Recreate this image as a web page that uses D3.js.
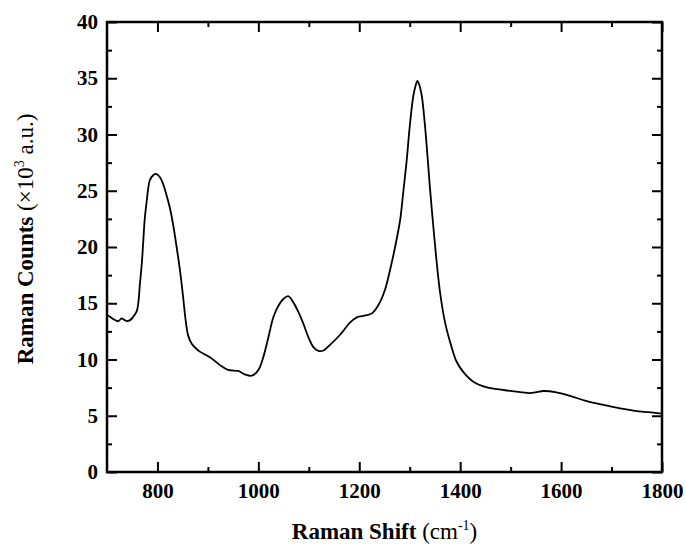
<!DOCTYPE html>
<html>
<head>
<meta charset="utf-8">
<script src="https://cdn.jsdelivr.net/npm/d3@7"></script>
<style>
  body { margin: 0; background: #fff; }
  svg text { font-family: "Liberation Serif", "Times New Roman", serif; }
</style>
</head>
<body>
<div id="chart"></div>
<script>
// Raman spectrum
var shift = [700, 706, 714, 722, 729, 733, 739, 746, 752, 759, 762, 765, 769, 772, 775, 779, 782, 785, 792, 797,
	805, 812, 818, 825, 831, 838, 845, 851, 855, 861, 868, 876, 884, 904, 924, 940, 960, 973, 987, 1000,
	1010, 1020, 1030, 1040, 1050, 1059, 1069, 1079, 1089, 1099, 1109, 1119, 1129, 1142, 1162, 1182, 1195, 1208, 1225, 1238,
	1251, 1261, 1271, 1281, 1287, 1294, 1300, 1307, 1312, 1315, 1319, 1324, 1330, 1335, 1340, 1346, 1352, 1360, 1370, 1383,
	1393, 1406, 1426, 1453, 1486, 1519, 1538, 1552, 1565, 1591, 1618, 1651, 1684, 1717, 1750, 1783, 1800];
var counts = [13.95, 13.8, 13.55, 13.4, 13.65, 13.55, 13.42, 13.5, 13.8, 14.3, 15.0, 16.6, 18.55, 20.6, 22.6, 24.2, 25.3, 25.95, 26.4, 26.5,
	26.2, 25.5, 24.6, 23.4, 22.0, 20.0, 17.8, 15.5, 13.8, 12.1, 11.4, 11.0, 10.7, 10.2, 9.5, 9.07, 8.98, 8.68, 8.56, 9.07,
	10.25, 12.0, 13.8, 14.8, 15.4, 15.64, 15.1, 14.25, 13.2, 12.0, 11.1, 10.76, 10.8, 11.3, 12.2, 13.3, 13.75, 13.87, 14.1, 14.84,
	16.2, 17.96, 20.0, 22.4, 24.8, 27.7, 30.7, 33.4, 34.4, 34.76, 34.4, 33.4, 30.9, 28.2, 25.3, 22.2, 19.3, 16.0, 13.3, 11.1,
	9.8, 8.9, 8.03, 7.53, 7.29, 7.1, 7.02, 7.1, 7.2, 7.08, 6.76, 6.3, 5.96, 5.66, 5.42, 5.27, 5.18];

var xTicks = [800, 1000, 1200, 1400, 1600, 1800];
var xMinor = [900, 1100, 1300, 1500, 1700];
var yTicks = [0, 5, 10, 15, 20, 25, 30, 35, 40];
var yMinor = [2.5, 7.5, 12.5, 17.5, 22.5, 27.5, 32.5, 37.5];

var width = 686, height = 546;
var margin = {top: 22, right: 24, bottom: 74, left: 107};
var w = width - margin.left - margin.right;
var h = height - margin.top - margin.bottom;

var svg = d3.select("#chart").append("svg")
	.attr("width", width)
	.attr("height", height);

var g = svg.append("g")
	.attr("transform", "translate(" + margin.left + "," + margin.top + ")");

var x = d3.scaleLinear().domain([700, 1800]).range([0, w]);
var y = d3.scaleLinear().domain([0, 40]).range([h, 0]);

function styleAxis(sel) {
	sel.select(".domain").remove();
	sel.selectAll("line").attr("stroke", "#000").attr("stroke-width", 2);
	sel.selectAll("text")
		.attr("fill", "#000")
		.style("font-size", "21px")
		.style("font-weight", "bold");
}

// major ticks, all pointing inward
g.append("g").attr("transform", "translate(0," + h + ")")
	.call(d3.axisBottom(x).tickValues(xTicks).tickSizeInner(-10).tickPadding(11).tickFormat(d3.format("d")))
	.call(styleAxis);
g.append("g")
	.call(d3.axisTop(x).tickValues(xTicks).tickSizeInner(-10).tickFormat(""))
	.call(styleAxis);
g.append("g")
	.call(d3.axisLeft(y).tickValues(yTicks).tickSizeInner(-10).tickPadding(9).tickFormat(d3.format("d")))
	.call(styleAxis);
g.append("g").attr("transform", "translate(" + w + ",0)")
	.call(d3.axisRight(y).tickValues(yTicks).tickSizeInner(-10).tickFormat(""))
	.call(styleAxis);

// minor ticks
g.append("g").attr("transform", "translate(0," + h + ")")
	.call(d3.axisBottom(x).tickValues(xMinor).tickSizeInner(-5).tickFormat(""))
	.call(styleAxis);
g.append("g")
	.call(d3.axisTop(x).tickValues(xMinor).tickSizeInner(-5).tickFormat(""))
	.call(styleAxis);
g.append("g")
	.call(d3.axisLeft(y).tickValues(yMinor).tickSizeInner(-5).tickFormat(""))
	.call(styleAxis);
g.append("g").attr("transform", "translate(" + w + ",0)")
	.call(d3.axisRight(y).tickValues(yMinor).tickSizeInner(-5).tickFormat(""))
	.call(styleAxis);

// frame
g.append("rect")
	.attr("width", w)
	.attr("height", h)
	.attr("fill", "none")
	.attr("stroke", "#000")
	.attr("stroke-width", 2.5);

// spectrum
var data = shift.map(function (s, i) { return {s: s, c: counts[i]}; });
var line = d3.line()
	.x(function (d) { return x(d.s); })
	.y(function (d) { return y(d.c); })
	.curve(d3.curveCatmullRom.alpha(0.5));

g.append("path")
	.datum(data)
	.attr("d", line)
	.attr("fill", "none")
	.attr("stroke", "#000")
	.attr("stroke-width", 1.8)
	.attr("stroke-linejoin", "round");

// axis titles
var xt = svg.append("text")
	.attr("x", margin.left + w / 2)
	.attr("y", 539)
	.attr("text-anchor", "middle")
	.style("font-size", "23px");
xt.append("tspan").style("font-weight", "bold").text("Raman Shift");
xt.append("tspan").text(" (cm");
xt.append("tspan").attr("dy", -9).style("font-size", "14px").text("-1");
xt.append("tspan").attr("dy", 9).text(")");

var yt = svg.append("text")
	.attr("transform", "translate(33," + (margin.top + h / 2 - 8) + ") rotate(-90)")
	.attr("text-anchor", "middle")
	.style("font-size", "23px");
yt.append("tspan").style("font-weight", "bold").text("Raman Counts");
yt.append("tspan").text(" (\u00d710");
yt.append("tspan").attr("dy", -9).style("font-size", "14px").text("3");
yt.append("tspan").attr("dy", 9).text(" a.u.)");
</script>
</body>
</html>
